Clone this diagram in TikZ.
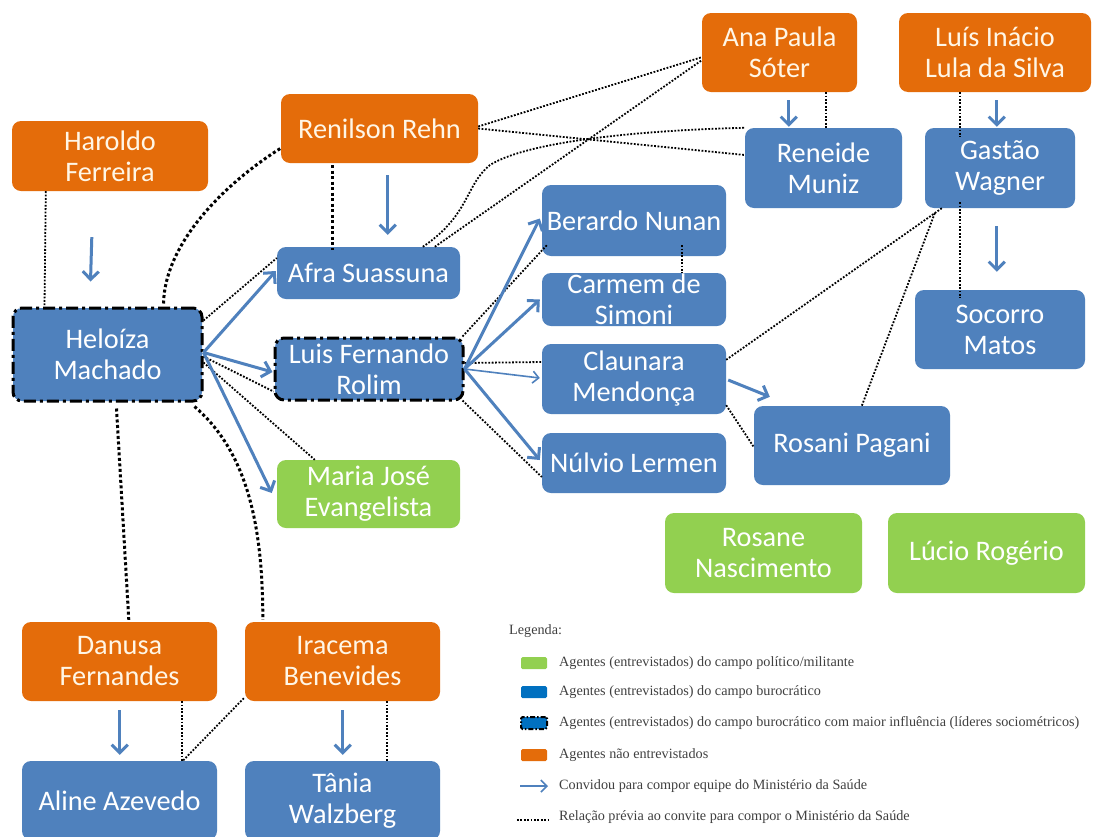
\documentclass[tikz,border=0pt]{standalone}
\usepackage{fontspec}
\setmainfont{Carlito}
\newfontfamily\legfont{Liberation Serif}
\usetikzlibrary{arrows.meta,calc}
\definecolor{orng}{HTML}{E46C0A}
\definecolor{blu}{HTML}{4F81BD}
\definecolor{grn}{HTML}{92D050}
\definecolor{legblu}{HTML}{0070C0}
\definecolor{cream}{HTML}{FFF6E6}
\begin{document}
\begin{tikzpicture}[x=1pt,y=-1pt,
  box/.style={rounded corners=9pt, inner sep=0pt, align=center, font=\fontsize{28.3}{31}\selectfont},
  sz/.style n args={2}{minimum width=#1, minimum height=#2},
  ob/.style={box, fill=orng, text=cream},
  bb/.style={box, fill=blu, text=white},
  gb/.style={box, fill=grn, text=white},
  lead/.style={bb, draw=black, line width=3pt, dash pattern=on 12pt off 4pt on 3pt off 4pt},
  arr/.style={draw=blu, line width=3pt, -{Straight Barb[length=8pt,width=16pt]}},
  arrthin/.style={draw=blu, line width=1.6pt, -{Straight Barb[length=6pt,width=12pt]}},
  dthin/.style={draw=black, line width=1.8pt, dash pattern=on 1.8pt off 1.6pt},
  dthick/.style={draw=black, line width=3pt, dash pattern=on 3pt off 2.5pt},
  leg/.style={font=\legfont\fontsize{14.2}{16}\selectfont, text=black!75, inner sep=0pt, anchor=west},
  swatch/.style={minimum width=26pt, minimum height=12pt, inner sep=0pt, rounded corners=1.5pt}
]
\fill[white] (0,0) rectangle (1093,836);
\useasboundingbox (0,0) rectangle (1093,836);

% nodes
\node[ob, sz={196pt}{70pt}] (hf) at (110,156) {Haroldo\\Ferreira};
\node[ob, sz={197pt}{69pt}] (rr) at (379.5,128.5) {Renilson Rehn};
\node[ob, sz={155pt}{79pt}] (ap) at (779.5,52.5) {Ana Paula\\Sóter};
\node[ob, sz={192pt}{79pt}] (lu) at (995,52.5) {Luís Inácio\\Lula da Silva};
\node[bb, sz={157pt}{80pt}] (rm) at (823.5,168) {Reneide\\Muniz};
\node[bb, sz={150pt}{80pt}] (gw) at (1000,168) {Gastão\\Wagner};
\node[bb, sz={170pt}{79pt}] (sm) at (1000,329.5) {Socorro\\Matos};
\node[bb, sz={183pt}{52pt}] (as) at (368.5,273) {Afra Suassuna};
\node[bb, sz={184pt}{71pt}] (bn) at (634,220.5) {Berardo Nunan};
\node[bb, sz={184pt}{53pt}] (cs) at (634,299.5) {Carmem de\\Simoni};
\node[bb, sz={184pt}{70pt}] (cm) at (634,379) {Claunara\\Mendonça};
\node[bb, sz={184pt}{60pt}] (nl) at (634,463) {Núlvio Lermen};
\node[bb, sz={196pt}{79pt}] (rp) at (852,445.5) {Rosani Pagani};
\node[lead, sz={189pt}{93pt}] (hm) at (107.5,354.5) {Heloíza\\Machado};
\node[lead, sz={188pt}{62pt}] (lf) at (369,369) {Luis Fernando\\Rolim};
\node[gb, sz={183pt}{68pt}] (mj) at (368.5,494) {Maria José\\Evangelista};
\node[gb, sz={197pt}{80pt}] (rn) at (763.5,553) {Rosane\\Nascimento};
\node[gb, sz={197pt}{80pt}] (lr) at (986.5,553) {Lúcio Rogério};
\node[ob, sz={195pt}{79pt}] (df) at (119.5,661.5) {Danusa\\Fernandes};
\node[ob, sz={195pt}{79pt}] (ib) at (342.5,661.5) {Iracema\\Benevides};
\node[bb, sz={195pt}{79pt}] (aa) at (119.5,800.5) {Aline Azevedo};
\node[bb, sz={195pt}{79pt}] (tw) at (342.5,800.5) {Tânia\\Walzberg};

% dotted relations
\draw[dthin] ($(hf.south west)+(34,0)$) -- ($(hm.north west)+(33,0)$);
\draw[dthick] ($(hm.north west)+(152,-3)$) .. controls (165,240) and (230,180) .. ($(rr.south west)+(0,-15)$);
\draw[dthick] ($(rr.south west)+(52,2)$) -- ($(as.north west)+(56,3)$);
\draw[dthin] ($(rr.east)+(0,-2)$) -- ($(ap.south west)+(0,-35)$);
\draw[dthin] (rr.east) -- ($(rm.west)+(0,-13)$);
\draw[dthin] ($(as.north west)+(146,0)$) .. controls (470,215) and (465,185) .. (490,165) .. controls (530,140) and (650,130) .. (rm.north west);
\draw[dthin] ($(as.north west)+(158,0)$) -- ($(ap.south west)+(0,-32)$);
\draw[dthin] ($(ap.south west)+(124,0)$) -- ($(rm.north west)+(81,0)$);
\draw[dthin] ($(lu.south west)+(61,0)$) -- ($(gw.north west)+(35,9)$);
\draw[dthin] ($(gw.south west)+(35,-6)$) -- ($(sm.north west)+(45,8)$);
\draw[dthin] ($(gw.south west)+(17,0)$) -- ($(cm.north east)+(0,16)$);
\draw[dthin] ($(gw.south west)+(10,5)$) -- ($(rp.north west)+(108,0)$);
\draw[dthin] ($(cm.south east)+(0,-9)$) -- ($(rp.west)+(0,1.5)$);
\draw[dthin] ($(bn.south west)+(140,-11)$) -- ($(cs.north west)+(140,0)$);
\draw[dthin] ($(lf.north east)+(-2,0)$) -- ($(bn.south west)+(5,-11)$);
\draw[dthin] ($(lf.east)+(0,-6)$) -- ($(cm.west)+(0,-17)$);
\draw[dthin] ($(lf.south east)+(-2,-1)$) -- ($(nl.west)+(0,14)$);
\draw[dthin] ($(hm.north east)+(0,14)$) -- ($(as.west)+(0,-15)$);
\draw[dthin] ($(hm.east)+(0,2)$) -- ($(lf.south west)+(0,-10)$);
\draw[dthin] ($(hm.east)+(0,8)$) -- ($(mj.north west)+(38,0)$);
\draw[dthick] ($(hm.south east)+(-9,4)$) .. controls (245,450) and (263,520) .. ($(ib.north west)+(18,-2)$);
\draw[dthick] ($(hm.south west)+(105,6)$) -- ($(df.north west)+(107,-2)$);
\draw[dthin] ($(df.south west)+(160,0)$) -- ($(aa.north west)+(160,0)$);
\draw[dthin] ($(ib.south west)+(-1,-3)$) -- ($(aa.north west)+(161,0)$);
\draw[dthin] ($(ib.south west)+(142,0)$) -- ($(tw.north west)+(142,0)$);

% invitations
\draw[arr] ($(hf.south west)+(80,46)$) -- ($(hm.north west)+(79,-25)$);
\draw[arr] ($(rr.south west)+(107,12)$) -- ($(as.north west)+(111,-12)$);
\draw[arr] ($(ap.south west)+(87,8)$) -- ($(rm.north west)+(44,-1)$);
\draw[arr] ($(lu.south west)+(98,8)$) -- ($(gw.north west)+(72,-1)$);
\draw[arr] ($(gw.south west)+(72,18)$) -- ($(sm.north west)+(82,-18)$);
\draw[arr] ($(hm.east)+(0,-2)$) -- ($(as.west)+(-1,-2)$);
\draw[arr] ($(hm.east)+(0,-2)$) -- ($(lf.west)+(-1,3)$);
\draw[arr] ($(hm.east)+(0,-2)$) -- ($(mj.west)+(-5,-1)$);
\draw[arr] (lf.east) -- ($(bn.west)+(-2,-2)$);
\draw[arr] (lf.east) -- ($(cs.west)+(-2,0)$);
\draw[arrthin] (lf.east) -- ($(cm.west)+(-2,-1)$);
\draw[arr] (lf.east) -- ($(nl.west)+(-2,-3)$);
\draw[arr] ($(cm.east)+(2,1)$) -- ($(rp.north west)+(16,-9)$);
\draw[arr] ($(df.south west)+(98,9)$) -- ($(aa.north west)+(98,-6)$);
\draw[arr] ($(ib.south west)+(98,9)$) -- ($(tw.north west)+(98,-6)$);

% legend
\node[leg] (lg0) at (509,631) {Legenda:};
\node[swatch, fill=grn] (sw1) at (534,663) {};
\node[leg] (lg1) at (559,663) {Agentes (entrevistados) do campo político/militante};
\node[swatch, fill=legblu] (sw2) at (534,692) {};
\node[leg] (lg2) at (559,692) {Agentes (entrevistados) do campo burocrático};
\node[swatch, fill=legblu, draw=black, line width=2pt, dash pattern=on 5pt off 2pt on 1.5pt off 2pt] (sw3) at (534,723) {};
\node[leg] (lg3) at (559,723) {Agentes (entrevistados) do campo burocrático com maior influência (líderes sociométricos)};
\node[swatch, fill=orng] (sw4) at (534,755) {};
\node[leg] (lg4) at (559,755) {Agentes não entrevistados};
\coordinate (a5s) at (520,786);
\coordinate (a5e) at (548,786);
\draw[arrthin] (a5s) -- (a5e);
\node[leg] (lg5) at (559,786) {Convidou para compor equipe do Ministério da Saúde};
\coordinate (d6s) at (517,820);
\coordinate (d6e) at (549,820);
\draw[dthin] (d6s) -- (d6e);
\node[leg] (lg6) at (559,817) {Relação prévia ao convite para compor o Ministério da Saúde};
\end{tikzpicture}
\end{document}
